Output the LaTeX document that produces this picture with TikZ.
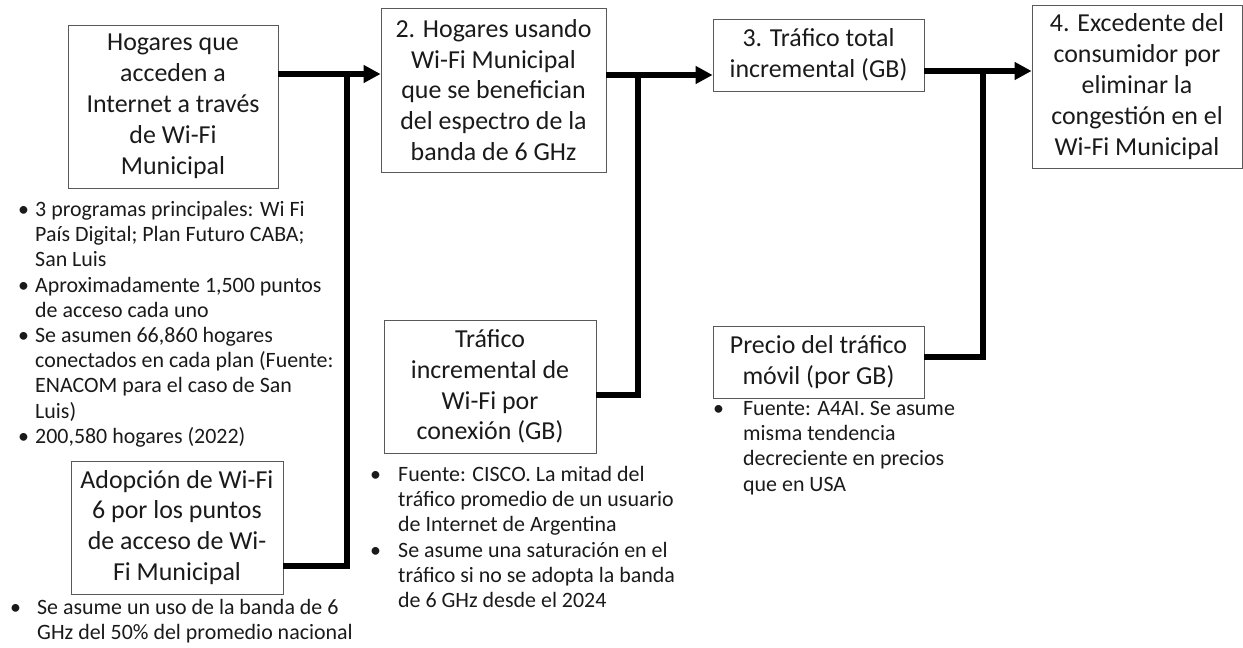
\documentclass[tikz,border=0pt]{standalone}
\usepackage{fontspec}
\setmainfont{Carlito}
\usepackage{tikz}
\usepackage{xcolor}
\usetikzlibrary{arrows.meta}
\definecolor{boxLineColor}{HTML}{595959}
\definecolor{linkColor}{HTML}{000000}
\definecolor{labelTextColor}{HTML}{1A1A1A}
\newcommand{\bul}[1]{\makebox[#1][l]{\textbullet}}
\newcommand{\ind}[1]{\hspace*{#1}}
\def\textA{Hogares que\\acceden a\\Internet a través\\de Wi-Fi\\Municipal}
\def\textB{2. Hogares usando\\Wi-Fi Municipal\\que se benefician\\del espectro de la\\banda de 6 GHz}
\def\textC{3. Tráfico total\\incremental (GB)}
\def\textD{4. Excedente del\\consumidor por\\eliminar la\\congestión en el\\Wi-Fi Municipal}
\def\textE{Tráfico\\incremental de\\Wi-Fi por\\conexión (GB)}
\def\textF{Precio del tráfico\\móvil (por GB)}
\def\textG{Adopción de Wi-Fi\\6 por los puntos\\de acceso de Wi-\\Fi Municipal}
\tikzset{
  box/.style={draw=boxLineColor, line width=0.8bp, align=center, inner sep=0pt,
    text=labelTextColor, font=\fontsize{26}{31}\selectfont},
  note/.style={align=left, inner sep=0pt, anchor=north west,
    text=labelTextColor, font=\fontsize{22}{25.3}\selectfont},
  link/.style={draw=linkColor, line width=6.5bp},
  arrowlink/.style={link, -{Triangle[length=17bp,width=17bp]}}
}

\begin{document}
\begin{tikzpicture}[x=1bp,y=-1bp]
\useasboundingbox (0, 0) rectangle (1243, 648);

% box layer
\begin{scope}
\node[box, minimum width=210bp, minimum height=163bp] (hogares) at (173, 106.5) {\textA};
\node[box, minimum width=225bp, minimum height=164bp] (usando) at (493.5, 90) {\textB};
\node[box, minimum width=211bp, minimum height=72bp] (total) at (818.5, 55) {\textC};
\node[box, minimum width=210bp, minimum height=163bp] (excedente) at (1137, 86.5) {\textD};
\node[box, minimum width=212bp, minimum height=133bp] (incremental) at (490, 386.5) {\textE};
\node[box, minimum width=211bp, minimum height=72bp] (precio) at (818.5, 362) {\textF};
\node[box, minimum width=212bp, minimum height=133bp] (adopcion) at (177, 527.5) {\textG};
\end{scope}

% note layer
\begin{scope}
\node[note] (notaHogares) at (18, 201) {\bul{17bp}3 programas principales: Wi Fi\\
\ind{17bp}País Digital; Plan Futuro CABA;\\
\ind{17bp}San Luis\\
\bul{17bp}Aproximadamente 1,500 puntos\\
\ind{17bp}de acceso cada uno\\
\bul{17bp}Se asumen 66,860 hogares\\
\ind{17bp}conectados en cada plan (Fuente:\\
\ind{17bp}ENACOM para el caso de San\\
\ind{17bp}Luis)\\
\bul{17bp}200,580 hogares (2022)};
\node[note] (notaAdopcion) at (10, 599) {\bul{27bp}Se asume un uso de la banda de 6\\
\ind{27bp}GHz del 50\% del promedio nacional};
\node[note] (notaIncremental) at (370, 466) {\bul{28bp}Fuente: CISCO. La mitad del\\
\ind{28bp}tráfico promedio de un usuario\\
\ind{28bp}de Internet de Argentina\\
\bul{28bp}Se asume una saturación en el\\
\ind{28bp}tráfico si no se adopta la banda\\
\ind{28bp}de 6 GHz desde el 2024};
\node[note] (notaPrecio) at (713, 401) {\bul{30bp}Fuente: A4AI. Se asume\\
\ind{30bp}misma tendencia\\
\ind{30bp}decreciente  en precios\\
\ind{30bp}que en USA};
\end{scope}

% link layer
\begin{scope}
\coordinate (jA) at (347, 74);
\coordinate (jAb) at (347, 566);
\coordinate (jB) at (638, 75);
\coordinate (jBb) at (638, 395);
\coordinate (jC) at (983, 71);
\coordinate (jCb) at (983, 357);
\draw[arrowlink] (hogares.east |- jA) -- (usando.west |- jA);
\draw[link] (adopcion.east |- jAb) -| (jA);
\draw[arrowlink] (usando.east |- jB) -- (total.west |- jB);
\draw[link] (incremental.east |- jBb) -| (jB);
\draw[arrowlink] (total.east |- jC) -- (excedente.west |- jC);
\draw[link] (precio.east |- jCb) -| (jC);
\end{scope}

\end{tikzpicture}
\end{document}
